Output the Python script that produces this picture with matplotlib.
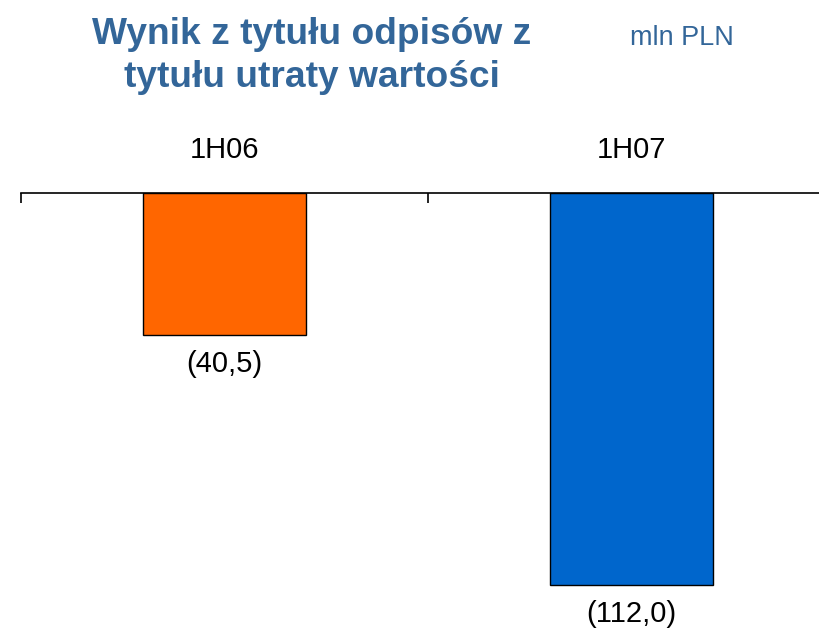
import matplotlib.pyplot as plt

plt.rcParams['font.family'] = ['Liberation Sans', 'DejaVu Sans']

# Data
periods = ["1H06", "1H07"]
values = [-40.5, -112.0]
colors = ["#FF6600", "#0066CC"]

title_color = "#336699"

fig = plt.figure(figsize=(8.2, 6.28), dpi=100)
ax = fig.add_axes([21 / 820, 15 / 628, 814 / 820, (613 - 193) / 628])

x = range(len(periods))
bars = ax.bar(x, values, width=0.4, color=colors, edgecolor="black", linewidth=1)

ax.set_xlim(-0.5, 1.5)
ax.set_ylim(-120, 0)

# only the top line stays, with ticks between categories
for side in ["left", "right", "bottom"]:
    ax.spines[side].set_visible(False)
ax.spines["top"].set_linewidth(1.2)
ax.set_yticks([])
ax.xaxis.set_ticks_position("top")
ax.set_xticks([-0.5, 0.5, 1.5])
ax.set_xticklabels([])
ax.tick_params(axis="x", direction="in", length=7.5, width=1.2, color="black")

# category labels above the line
for i, p in enumerate(periods):
    ax.annotate(p, xy=(i, 0), xytext=(0, 31), textcoords="offset points",
                ha="center", va="center", fontsize=21, annotation_clip=False)

# value labels under the bars
for i, v in enumerate(values):
    txt = "(" + f"{abs(v):.1f}".replace(".", ",") + ")" if v < 0 else f"{v:.1f}".replace(".", ",")
    ax.annotate(txt, xy=(i, v), xytext=(0, -21), textcoords="offset points",
                ha="center", va="center", fontsize=21, annotation_clip=False)

fig.text(312 / 820, 1 - 56 / 628, "Wynik z tytułu odpisów z\ntytułu utraty wartości",
         ha="center", va="center", fontsize=26.7, fontweight="bold",
         color=title_color, linespacing=1.3)
fig.text(682 / 820, 1 - 38 / 628, "mln PLN", ha="center", va="center",
         fontsize=19.5, color=title_color)

plt.savefig("out.png", dpi=100)
